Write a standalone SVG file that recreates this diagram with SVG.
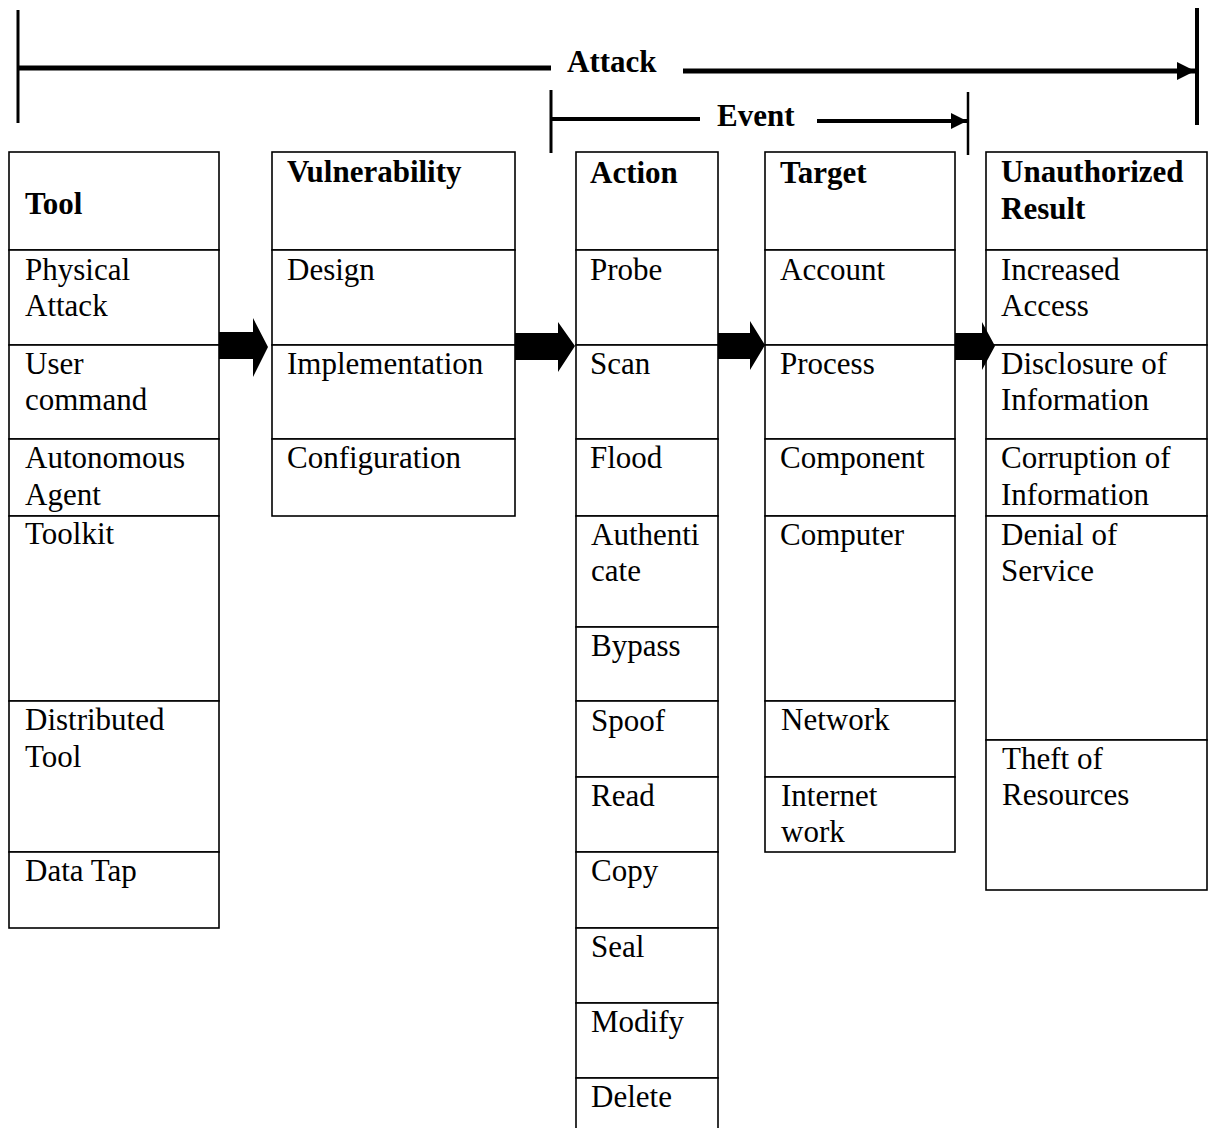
<svg xmlns="http://www.w3.org/2000/svg" width="1210" height="1128" viewBox="0 0 1210 1128">
  <style>
    .cell { fill: #fff; stroke: #000; stroke-width: 1.6; }
    .t { font-family: "Liberation Serif", "Times New Roman", serif; font-size: 31px; fill: #000; }
    .b { font-weight: bold; }
    .bar { stroke: #000; fill: none; }
    .block { fill: #000; }
  </style>
  <defs>
    <marker id="head" viewBox="0 0 10 10" refX="10" refY="5" markerWidth="18" markerHeight="20" markerUnits="userSpaceOnUse" orient="auto">
      <path d="M0,0 L10,5 L0,10 Z" fill="#000"/>
    </marker>
    <marker id="headS" viewBox="0 0 10 10" refX="10" refY="5" markerWidth="16" markerHeight="17" markerUnits="userSpaceOnUse" orient="auto">
      <path d="M0,0 L10,5 L0,10 Z" fill="#000"/>
    </marker>
  </defs>

  <!-- Attack / Event spans -->
  <g id="spans">
    <line class="bar" x1="18" y1="10" x2="18" y2="123" stroke-width="3"/>
    <line class="bar" x1="18" y1="68" x2="551" y2="68" stroke-width="5"/>
    <text class="t b" x="567" y="72">Attack</text>
    <line class="bar" x1="683" y1="71" x2="1195" y2="71" stroke-width="5" marker-end="url(#head)"/>
    <line class="bar" x1="1197" y1="8" x2="1197" y2="125" stroke-width="4"/>

    <line class="bar" x1="551" y1="90" x2="551" y2="153" stroke-width="3"/>
    <line class="bar" x1="551" y1="119" x2="700" y2="119" stroke-width="4"/>
    <text class="t b" x="717" y="126">Event</text>
    <line class="bar" x1="817" y1="121" x2="967" y2="121" stroke-width="4" marker-end="url(#headS)"/>
    <line class="bar" x1="968" y1="92" x2="968" y2="155" stroke-width="2.5"/>
  </g>

  <!-- Tool column -->
  <g id="tool">
    <rect class="cell" x="9" y="152" width="210" height="98"/>
    <rect class="cell" x="9" y="250" width="210" height="95"/>
    <rect class="cell" x="9" y="345" width="210" height="94"/>
    <rect class="cell" x="9" y="439" width="210" height="77"/>
    <rect class="cell" x="9" y="516" width="210" height="185"/>
    <rect class="cell" x="9" y="701" width="210" height="151"/>
    <rect class="cell" x="9" y="852" width="210" height="76"/>
    <text class="t b" x="25" y="214">Tool</text>
    <text class="t" x="25" y="280">Physical</text>
    <text class="t" x="25" y="316">Attack</text>
    <text class="t" x="25" y="374">User</text>
    <text class="t" x="25" y="410">command</text>
    <text class="t" x="25" y="468">Autonomous</text>
    <text class="t" x="25" y="505">Agent</text>
    <text class="t" x="25" y="544">Toolkit</text>
    <text class="t" x="25" y="730">Distributed</text>
    <text class="t" x="25" y="767">Tool</text>
    <text class="t" x="25" y="881">Data Tap</text>
  </g>

  <!-- Vulnerability column -->
  <g id="vulnerability">
    <rect class="cell" x="272" y="152" width="243" height="98"/>
    <rect class="cell" x="272" y="250" width="243" height="95"/>
    <rect class="cell" x="272" y="345" width="243" height="94"/>
    <rect class="cell" x="272" y="439" width="243" height="77"/>
    <text class="t b" x="287" y="182">Vulnerability</text>
    <text class="t" x="287" y="280">Design</text>
    <text class="t" x="287" y="374">Implementation</text>
    <text class="t" x="287" y="468">Configuration</text>
  </g>

  <!-- Action column -->
  <g id="action">
    <rect class="cell" x="576" y="152" width="142" height="98"/>
    <rect class="cell" x="576" y="250" width="142" height="95"/>
    <rect class="cell" x="576" y="345" width="142" height="94"/>
    <rect class="cell" x="576" y="439" width="142" height="77"/>
    <rect class="cell" x="576" y="516" width="142" height="111"/>
    <rect class="cell" x="576" y="627" width="142" height="74"/>
    <rect class="cell" x="576" y="701" width="142" height="76"/>
    <rect class="cell" x="576" y="777" width="142" height="75"/>
    <rect class="cell" x="576" y="852" width="142" height="76"/>
    <rect class="cell" x="576" y="928" width="142" height="75"/>
    <rect class="cell" x="576" y="1003" width="142" height="75"/>
    <rect class="cell" x="576" y="1078" width="142" height="60"/>
    <text class="t b" x="590" y="183">Action</text>
    <text class="t" x="590" y="280">Probe</text>
    <text class="t" x="590" y="374">Scan</text>
    <text class="t" x="590" y="468">Flood</text>
    <text class="t" x="591" y="545">Authenti</text>
    <text class="t" x="591" y="581">cate</text>
    <text class="t" x="591" y="656">Bypass</text>
    <text class="t" x="591" y="731">Spoof</text>
    <text class="t" x="591" y="806">Read</text>
    <text class="t" x="591" y="881">Copy</text>
    <text class="t" x="591" y="957">Seal</text>
    <text class="t" x="591" y="1032">Modify</text>
    <text class="t" x="591" y="1107">Delete</text>
  </g>

  <!-- Target column -->
  <g id="target">
    <rect class="cell" x="765" y="152" width="190" height="98"/>
    <rect class="cell" x="765" y="250" width="190" height="95"/>
    <rect class="cell" x="765" y="345" width="190" height="94"/>
    <rect class="cell" x="765" y="439" width="190" height="77"/>
    <rect class="cell" x="765" y="516" width="190" height="185"/>
    <rect class="cell" x="765" y="701" width="190" height="76"/>
    <rect class="cell" x="765" y="777" width="190" height="75"/>
    <text class="t b" x="780" y="183">Target</text>
    <text class="t" x="780" y="280">Account</text>
    <text class="t" x="780" y="374">Process</text>
    <text class="t" x="780" y="468">Component</text>
    <text class="t" x="780" y="545">Computer</text>
    <text class="t" x="781" y="730">Network</text>
    <text class="t" x="781" y="806">Internet</text>
    <text class="t" x="781" y="842">work</text>
  </g>

  <!-- Unauthorized Result column -->
  <g id="result">
    <rect class="cell" x="986" y="152" width="221" height="98"/>
    <rect class="cell" x="986" y="250" width="221" height="95"/>
    <rect class="cell" x="986" y="345" width="221" height="94"/>
    <rect class="cell" x="986" y="439" width="221" height="77"/>
    <rect class="cell" x="986" y="516" width="221" height="224"/>
    <rect class="cell" x="986" y="740" width="221" height="150"/>
    <text class="t b" x="1001" y="182">Unauthorized</text>
    <text class="t b" x="1001" y="219">Result</text>
    <text class="t" x="1001" y="280">Increased</text>
    <text class="t" x="1001" y="316">Access</text>
    <text class="t" x="1001" y="374">Disclosure of</text>
    <text class="t" x="1001" y="410">Information</text>
    <text class="t" x="1001" y="468">Corruption of</text>
    <text class="t" x="1001" y="505">Information</text>
    <text class="t" x="1001" y="545">Denial of</text>
    <text class="t" x="1001" y="581">Service</text>
    <text class="t" x="1002" y="769">Theft of</text>
    <text class="t" x="1002" y="805">Resources</text>
  </g>

  <!-- Block arrows between columns -->
  <g id="connectors">
    <path class="block" d="M219,332 L253,332 L253,318 L268,347 L253,377 L253,359 L219,359 Z"/>
    <path class="block" d="M515,333 L558,333 L558,322 L575,346 L558,372 L558,360 L515,360 Z"/>
    <path class="block" d="M718,333 L750,333 L750,321 L765,345 L750,370 L750,359 L718,359 Z"/>
    <path class="block" d="M955,333 L982,333 L982,322 L995,346 L982,370 L982,360 L955,360 Z"/>
  </g>
</svg>
